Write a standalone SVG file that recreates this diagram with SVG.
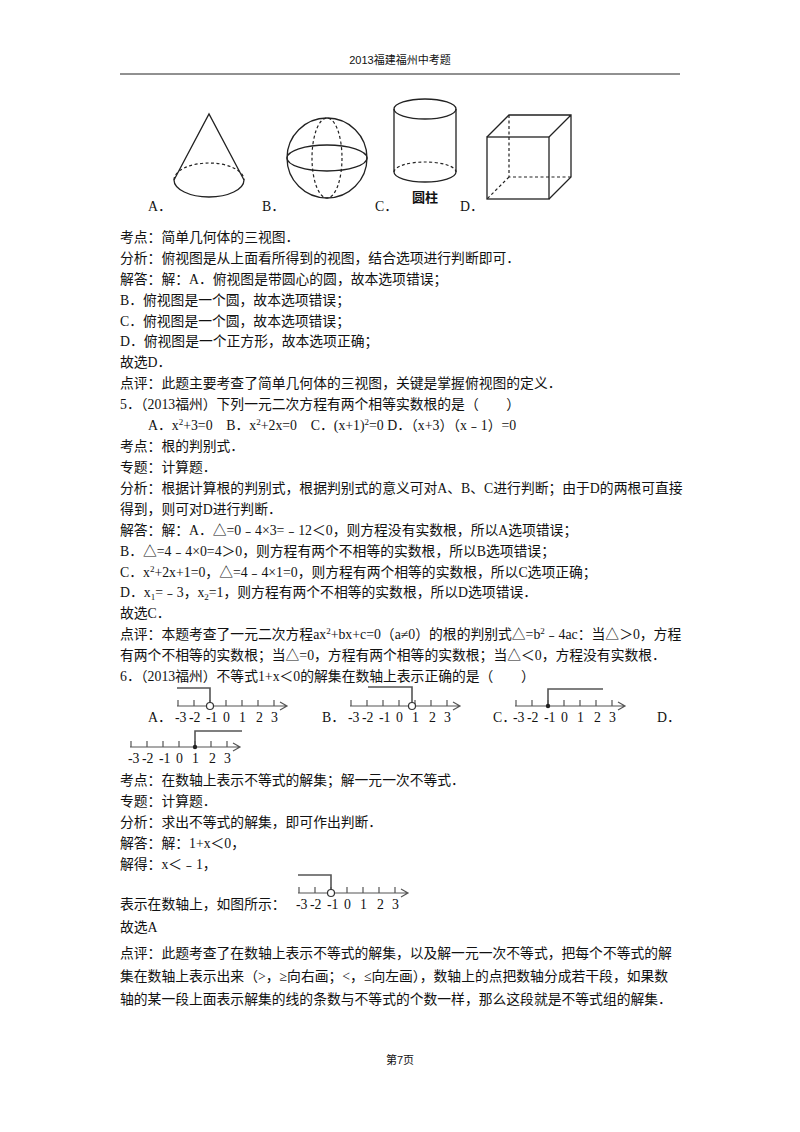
<svg xmlns="http://www.w3.org/2000/svg" width="800" height="1132" viewBox="0 0 800 1132">
<style>
text{font-family:"Liberation Serif","Noto Sans CJK SC",serif;font-size:13.8px;fill:#111}
.h{font-family:"Liberation Sans","Noto Sans CJK SC",sans-serif;font-size:11px}
.s{stroke:#222;stroke-width:1.3;fill:none}
.d{stroke:#222;stroke-width:1.2;fill:none;stroke-dasharray:3 2.5}
.n{font-size:12px}
.ax{stroke:#555;stroke-width:1.2;fill:none}
.br{stroke:#555;stroke-width:1.6;fill:none}
.oc{stroke:#333;stroke-width:1.2;fill:#fff}
</style>
<defs>
<g id="axis">
<path class="ax" d="M0 0H110M103 -4L110 0L103 4M1 0V-6M17 0V-6M33 0V-6M49 0V-6M65 0V-6M81 0V-6M97 0V-6"/>
<g class="n"><text x="-2" y="16">-3</text><text x="12" y="16">-2</text><text x="29" y="16">-1</text><text x="46" y="16">0</text><text x="62" y="16">1</text><text x="79" y="16">2</text><text x="94" y="16">3</text></g>
</g>
</defs>
<rect width="800" height="1132" fill="#fff"/>
<text class="h" x="400" y="64" text-anchor="middle">2013福建福州中考题</text>
<line x1="120" y1="74" x2="680" y2="74" stroke="#222" stroke-width="1"/>
<g id="shapes">
<g id="cone"><path class="s" d="M174 180L209 114L244 180"/><path class="s" d="M174 180A35 17 0 0 0 244 180"/><path class="d" d="M174 180A35 17 0 0 1 244 180"/></g>
<g id="sphere"><circle class="s" cx="327" cy="158" r="40"/><path class="s" d="M287 158A40 13 0 0 0 367 158"/><path class="s" d="M287 158A40 13 0 0 1 367 158"/><ellipse class="d" cx="327" cy="158" rx="15" ry="40"/></g>
<g id="cyl"><ellipse class="s" cx="425" cy="109" rx="31" ry="10"/><path class="s" d="M394 109V172M456 109V172M394 172A31 10 0 0 0 456 172"/><path class="d" d="M394 172A31 10 0 0 1 456 172"/><text x="425" y="202" text-anchor="middle" style="font-family:'Noto Sans CJK SC',sans-serif;font-size:13px;font-weight:bold">圆柱</text></g>
<g id="cube"><rect class="s" x="487" y="137" width="62" height="62"/><path class="s" d="M487 137L509 115H571V177L549 199M549 137L571 115"/><path class="d" d="M509 115V177H571M509 177L487 199"/></g>
</g>
<text x="148" y="211">A．</text><text x="262" y="211">B．</text><text x="375" y="211">C．</text><text x="460" y="211">D．</text>
<text x="120" y="242">考点：简单几何体的三视图．</text>
<text x="120" y="263">分析：俯视图是从上面看所得到的视图，结合选项进行判断即可．</text>
<text x="120" y="284">解答：解：A．俯视图是带圆心的圆，故本选项错误；</text>
<text x="120" y="305">B．俯视图是一个圆，故本选项错误；</text>
<text x="120" y="326">C．俯视图是一个圆，故本选项错误；</text>
<text x="120" y="346">D．俯视图是一个正方形，故本选项正确；</text>
<text x="120" y="367">故选D．</text>
<text x="120" y="388">点评：此题主要考查了简单几何体的三视图，关键是掌握俯视图的定义．</text>
<text x="120" y="409">5．（2013福州）下列一元二次方程有两个相等实数根的是（　　）</text>
<text x="148" y="430">A．x<tspan dy="-5" font-size="9">2</tspan><tspan dy="5">+3=0　B．x</tspan><tspan dy="-5" font-size="9">2</tspan><tspan dy="5">+2x=0　C．(x+1)</tspan><tspan dy="-5" font-size="9">2</tspan><tspan dy="5">=0 D．（x+3）（x﹣1）=0</tspan></text>
<text x="120" y="451">考点：根的判别式．</text>
<text x="120" y="472">专题：计算题．</text>
<text x="120" y="493">分析：根据计算根的判别式，根据判别式的意义可对A、B、C进行判断；由于D的两根可直接</text>
<text x="120" y="514">得到，则可对D进行判断．</text>
<text x="120" y="535">解答：解：A．△=0﹣4×3=﹣12＜0，则方程没有实数根，所以A选项错误；</text>
<text x="120" y="556">B．△=4﹣4×0=4＞0，则方程有两个不相等的实数根，所以B选项错误；</text>
<text x="120" y="577">C．x<tspan dy="-5" font-size="9">2</tspan><tspan dy="5">+2x+1=0，△=4﹣4×1=0，则方程有两个相等的实数根，所以C选项正确；</tspan></text>
<text x="120" y="597">D．x<tspan dy="3" font-size="9">1</tspan><tspan dy="-3">=﹣3，x</tspan><tspan dy="3" font-size="9">2</tspan><tspan dy="-3">=1，则方程有两个不相等的实数根，所以D选项错误．</tspan></text>
<text x="120" y="618">故选C．</text>
<text x="120" y="639">点评：本题考查了一元二次方程ax<tspan dy="-5" font-size="9">2</tspan><tspan dy="5">+bx+c=0（a≠0）的根的判别式△=b</tspan><tspan dy="-5" font-size="9">2</tspan><tspan dy="5">﹣4ac：当△＞0，方程</tspan></text>
<text x="120" y="660">有两个不相等的实数根；当△=0，方程有两个相等的实数根；当△＜0，方程没有实数根．</text>
<text x="120" y="681">6．（2013福州）不等式1+x＜0的解集在数轴上表示正确的是（　　）</text>
<text x="148" y="722">A．</text><text x="322" y="722">B．</text><text x="493" y="722">C．</text><text x="657" y="722">D．</text>
<g id="numlines">
<g id="nlA"><use href="#axis" x="177" y="706"/><path class="br" d="M177 688H210V706"/><circle class="oc" cx="210" cy="706" r="3.5"/></g>
<g id="nlB"><use href="#axis" x="350" y="706"/><path class="br" d="M368 687H412V706"/><circle class="oc" cx="412" cy="706" r="3.5"/></g>
<g id="nlC"><use href="#axis" x="515" y="706"/><path class="br" d="M548 706V689H603"/><circle cx="548" cy="706" r="2.2" fill="#222"/></g>
<g id="nlD"><use href="#axis" x="130" y="747"/><path class="br" d="M195 747V731H242"/><circle cx="195" cy="747" r="2.2" fill="#222"/></g>
<g id="nlAns"><use href="#axis" x="298" y="893"/><path class="br" d="M298 875H331V893"/><circle class="oc" cx="331" cy="893" r="3.5"/></g>
</g>
<text x="120" y="785">考点：在数轴上表示不等式的解集；解一元一次不等式．</text>
<text x="120" y="806">专题：计算题．</text>
<text x="120" y="827">分析：求出不等式的解集，即可作出判断．</text>
<text x="120" y="848">解答：解：1+x＜0，</text>
<text x="120" y="869">解得：x＜﹣1，</text>
<text x="120" y="909">表示在数轴上，如图所示：</text>
<text x="120" y="932">故选A</text>
<text x="120" y="958">点评：此题考查了在数轴上表示不等式的解集，以及解一元一次不等式，把每个不等式的解</text>
<text x="120" y="981">集在数轴上表示出来（&gt;，≥向右画；&lt;，≤向左画），数轴上的点把数轴分成若干段，如果数</text>
<text x="120" y="1004">轴的某一段上面表示解集的线的条数与不等式的个数一样，那么这段就是不等式组的解集．</text>
<text class="h" x="400" y="1064" text-anchor="middle">第7页</text>
</svg>
